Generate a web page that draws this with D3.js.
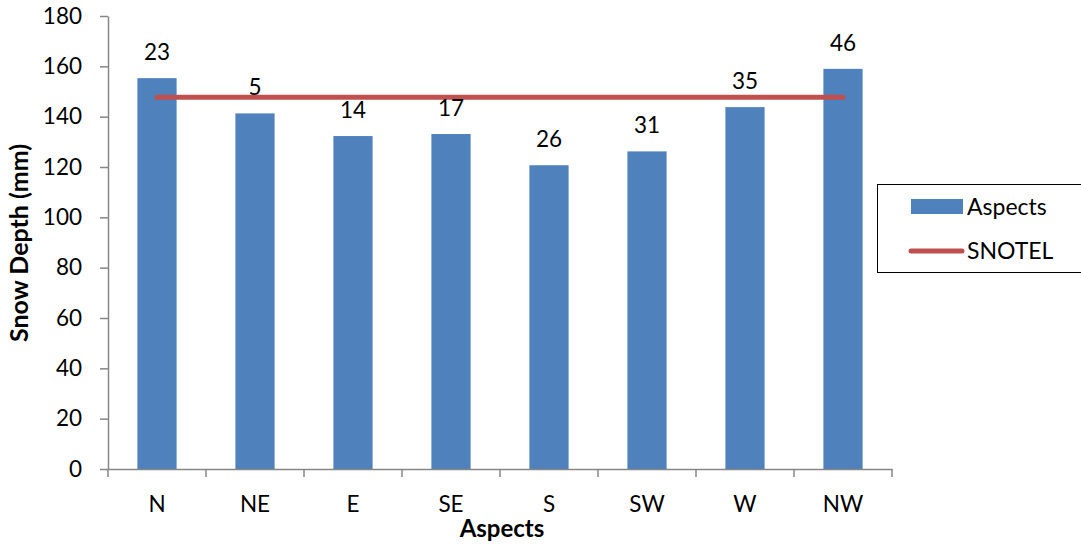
<!DOCTYPE html>
<html><head><meta charset="utf-8">
<script src="https://cdn.jsdelivr.net/npm/d3@7"></script>
<style>body{margin:0;background:#fff;} text{font-family:Lato, "Open Sans", sans-serif;}</style>
</head><body>
<svg id="c" width="1081" height="548"></svg>
<script>
const categories = ["N","NE","E","SE","S","SW","W","NW"];
const aspectValues = [155.3, 141.3, 132.3, 133.1, 120.7, 126.2, 143.8, 159.0];
const countLabels = [23, 5, 14, 17, 26, 31, 35, 46];
const snotelValue = 147.7;
const yTicks = [0,20,40,60,80,100,120,140,160,180];

(function(){
const svg = d3.select("#c");
const pLeft = 108, pRight = 892, pTop = 16, pBottom = 469;
const x = d3.scaleBand().domain(categories).range([pLeft, pRight]).paddingInner(0.6).paddingOuter(0.3);
const xb = d3.scaleBand().domain(categories).range([pLeft, pRight]);
const y = d3.scaleLinear().domain([0,180]).range([pBottom, pTop]);
const axisColor = "#868686";
const fs = 22.5;

// bars
svg.selectAll("rect.bar").data(categories).join("rect")
  .attr("class","bar")
  .attr("x", d => x(d)).attr("width", x.bandwidth())
  .attr("y", (d,i) => y(aspectValues[i]))
  .attr("height", (d,i) => y(0) - y(aspectValues[i]))
  .attr("fill", "#4f81bd");

// y axis
const ya = svg.append("g").attr("transform", `translate(${pLeft},0)`)
  .call(d3.axisLeft(y).tickValues(yTicks).tickSize(8).tickPadding(18).tickSizeOuter(0));
ya.select(".domain").attr("stroke", axisColor).attr("stroke-width", 1.5);
ya.selectAll(".tick line").attr("stroke", axisColor).attr("stroke-width", 1.5);
ya.selectAll(".tick text").attr("font-size", fs).attr("fill", "#000").style("font-family","Lato");

// x axis
const xa = svg.append("g").attr("transform", `translate(0,${pBottom})`)
  .call(d3.axisBottom(xb).tickSize(0).tickPadding(27).tickSizeOuter(0));
xa.select(".domain").attr("stroke", axisColor).attr("stroke-width", 1.5);
xa.selectAll(".tick text").attr("font-size", fs).attr("fill", "#000").style("font-family","Lato");
const bounds = categories.map(c => xb(c)).concat([pRight]);
svg.selectAll("line.xt").data(bounds).join("line")
  .attr("class","xt")
  .attr("x1", d => d).attr("x2", d => d).attr("y1", pBottom).attr("y2", pBottom + 8)
  .attr("stroke", axisColor).attr("stroke-width", 1.5);

// SNOTEL line
svg.append("line")
  .attr("x1", xb(categories[0]) + xb.bandwidth()/2)
  .attr("x2", xb(categories[categories.length-1]) + xb.bandwidth()/2)
  .attr("y1", y(snotelValue)).attr("y2", y(snotelValue))
  .attr("stroke", "#c0504d").attr("stroke-width", 5).attr("stroke-linecap", "round");

// count labels
svg.selectAll("text.lbl").data(categories).join("text")
  .attr("class","lbl")
  .attr("x", d => xb(d) + xb.bandwidth()/2)
  .attr("y", (d,i) => y(aspectValues[i]) - 18)
  .attr("text-anchor", "middle").attr("font-size", fs).attr("fill", "#000")
  .text((d,i) => countLabels[i]);

// axis titles
svg.append("text").attr("transform", "translate(28,243) rotate(-90)")
  .attr("text-anchor", "middle").attr("font-size", 25).attr("font-weight", "bold")
  .text("Snow Depth (mm)");
svg.append("text").attr("x", 502).attr("y", 537)
  .attr("text-anchor", "middle").attr("font-size", 24).attr("font-weight", "bold")
  .text("Aspects");

// legend
const lg = svg.append("g");
lg.append("rect").attr("x", 877.5).attr("y", 184.5).attr("width", 220).attr("height", 88)
  .attr("fill", "#fff").attr("stroke", "#000").attr("stroke-width", 1);
lg.append("rect").attr("x", 911).attr("y", 199).attr("width", 52).attr("height", 15).attr("fill", "#4f81bd");
lg.append("text").attr("x", 967).attr("y", 215).attr("font-size", 23).text("Aspects");
lg.append("line").attr("x1", 911).attr("x2", 962).attr("y1", 251).attr("y2", 251)
  .attr("stroke", "#c0504d").attr("stroke-width", 5).attr("stroke-linecap", "round");
lg.append("text").attr("x", 967).attr("y", 259).attr("font-size", 23).text("SNOTEL");
})();
</script>
</body></html>
